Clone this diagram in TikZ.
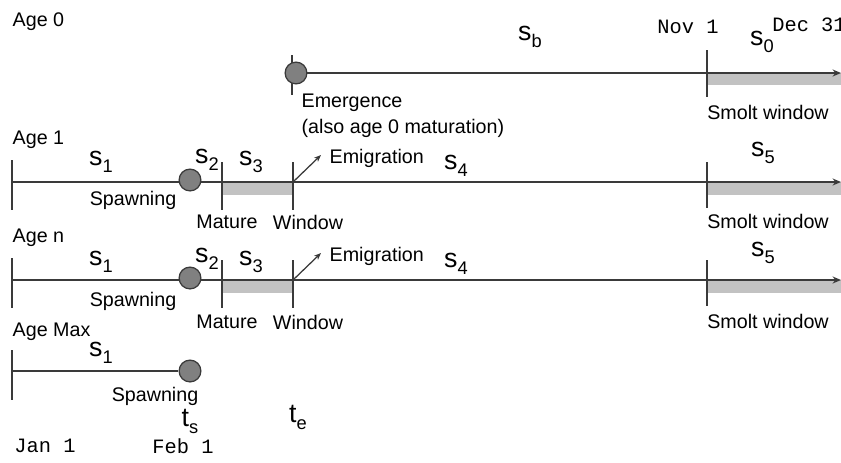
\documentclass[tikz,border=0pt]{standalone}
\usepackage{fontspec}
\setmainfont{Liberation Sans}
\setmonofont{Liberation Mono}
\usetikzlibrary{positioning,arrows.meta}

\definecolor{lineclr}{HTML}{3A3A3A}
\definecolor{winclr}{HTML}{C2C2C2}
\definecolor{dotclr}{HTML}{808080}

\newcommand{\stg}[2]{#1\raisebox{-0.5ex}{\fontsize{13}{13}\selectfont #2}}

\tikzset{
  timeline/.style={lineclr, line width=1.2pt, -{Stealth[length=6pt,width=5pt]}},
  plainline/.style={lineclr, line width=1.2pt},
  tickmark/.style={lineclr, line width=1.2pt},
  window/.style={fill=winclr},
  event/.style={circle, draw=lineclr, fill=dotclr, line width=0.9pt, minimum size=15.5pt, inner sep=0pt},
  lbl/.style={font=\fontsize{14}{16}\selectfont, inner sep=1pt},
  stage/.style={font=\fontsize{19}{21}\selectfont, inner sep=0pt},
  date/.style={font=\ttfamily\fontsize{14.5}{16}\selectfont, inner sep=0pt},
  emig/.style={lineclr, line width=0.9pt, -{Stealth[length=5pt,width=4pt]}}
}

\begin{document}
\begin{tikzpicture}[x=0.025cm, y=-0.025cm]
\useasboundingbox (0,0) rectangle (841,462);

% Age 0
\node[lbl, anchor=west] (age0) at (11,22) {Age 0};
\coordinate (emrg0) at (292,73);
\coordinate (nov0)  at (707,73);
\coordinate (end0)  at (841,73);
\coordinate (win0)  at (841,85);
\fill[window] (nov0) rectangle (win0);
\draw[tickmark] (emrg0) ++(0,-18) -- ++(0,40);
\draw[tickmark] (nov0) ++(0,-23) -- ++(0,47);
\draw[timeline] (emrg0) -- (end0);
\node[event] (dot0) at (296,73) {};
\node[stage] (sb) at (530,37) {\stg{s}{b}};
\node[stage] (s0) at (762,42) {\stg{s}{0}};
\node[date] (nov) at (688,27) {Nov 1};
\node[date, anchor=west] (dec) at (772,25) {Dec 31};
\node[lbl, anchor=west] (emrg) at (300,103) {Emergence};
\node[lbl, anchor=west] (mat0) at (300,128) {(also age 0 maturation)};
\node[lbl] (smolt0) at (768,112) {Smolt window};

% Age 1
\node[lbl, anchor=west] (age1) at (11,140) {Age 1};
\coordinate (jan1) at (12,182);
\coordinate (mat1) at (222,182);
\coordinate (wnd1) at (293,182);
\coordinate (nov1) at (707,182);
\coordinate (end1) at (841,182);
\coordinate (gap1) at (293,195);
\coordinate (win1) at (841,195);
\coordinate (out1) at (321,155);
\fill[window] (mat1) rectangle (gap1);
\fill[window] (nov1) rectangle (win1);
\draw[tickmark] (jan1) ++(0,-22) -- ++(0,50);
\draw[tickmark] (mat1) ++(0,-20) -- ++(0,48);
\draw[tickmark] (wnd1) ++(0,-20) -- ++(0,48);
\draw[tickmark] (nov1) ++(0,-20) -- ++(0,46);
\draw[timeline] (jan1) -- (end1);
\draw[emig] (wnd1) -- (out1);
\node[event] (dot1) at (190,180) {};
\node[stage] (s1a) at (101,162) {\stg{s}{1}};
\node[stage] (s2a) at (207,160) {\stg{s}{2}};
\node[stage] (s3a) at (251,162) {\stg{s}{3}};
\node[stage] (s4a) at (456,166) {\stg{s}{4}};
\node[stage] (s5a) at (763,153) {\stg{s}{5}};
\node[lbl, anchor=west] (emig1) at (328,158) {Emigration};
\node[lbl] (spawn1) at (133,200) {Spawning};
\node[lbl] (mature1) at (227,222) {Mature};
\node[lbl] (window1) at (308,222) {Window};
\node[lbl] (smolt1) at (768,221) {Smolt window};

% Age n
\node[lbl, anchor=west] (agen) at (11,238) {Age n};
\coordinate (jann) at (12,280);
\coordinate (matn) at (222,280);
\coordinate (wndn) at (293,280);
\coordinate (novn) at (707,280);
\coordinate (endn) at (841,280);
\coordinate (gapn) at (293,293);
\coordinate (winn) at (841,293);
\coordinate (outn) at (321,253);
\fill[window] (matn) rectangle (gapn);
\fill[window] (novn) rectangle (winn);
\draw[tickmark] (jann) ++(0,-22) -- ++(0,50);
\draw[tickmark] (matn) ++(0,-20) -- ++(0,48);
\draw[tickmark] (wndn) ++(0,-20) -- ++(0,48);
\draw[tickmark] (novn) ++(0,-20) -- ++(0,46);
\draw[timeline] (jann) -- (endn);
\draw[emig] (wndn) -- (outn);
\node[event] (dotn) at (190,278) {};
\node[stage] (s1n) at (101,262) {\stg{s}{1}};
\node[stage] (s2n) at (207,259) {\stg{s}{2}};
\node[stage] (s3n) at (251,262) {\stg{s}{3}};
\node[stage] (s4n) at (456,264) {\stg{s}{4}};
\node[stage] (s5n) at (763,253) {\stg{s}{5}};
\node[lbl, anchor=west] (emign) at (328,256) {Emigration};
\node[lbl] (spawnn) at (133,301) {Spawning};
\node[lbl] (maturen) at (227,322) {Mature};
\node[lbl] (windown) at (308,322) {Window};
\node[lbl] (smoltn) at (768,321) {Smolt window};

% Age Max
\node[lbl, anchor=west] (agemax) at (11,332) {Age Max};
\coordinate (janm) at (12,371);
\node[event] (dotm) at (190,371) {};
\draw[tickmark] (janm) ++(0,-21) -- ++(0,50);
\draw[plainline] (janm) -- (dotm);
\node[stage] (s1m) at (101,353) {\stg{s}{1}};
\node[lbl] (spawnm) at (155,396) {Spawning};

% times and dates
\node[stage] (ts) at (190,421) {\stg{t}{s}};
\node[stage] (te) at (298,417) {\stg{t}{e}};
\node[date] (jan) at (45,446) {Jan 1};
\node[date] (feb) at (183,446) {Feb 1};
\end{tikzpicture}
\end{document}
